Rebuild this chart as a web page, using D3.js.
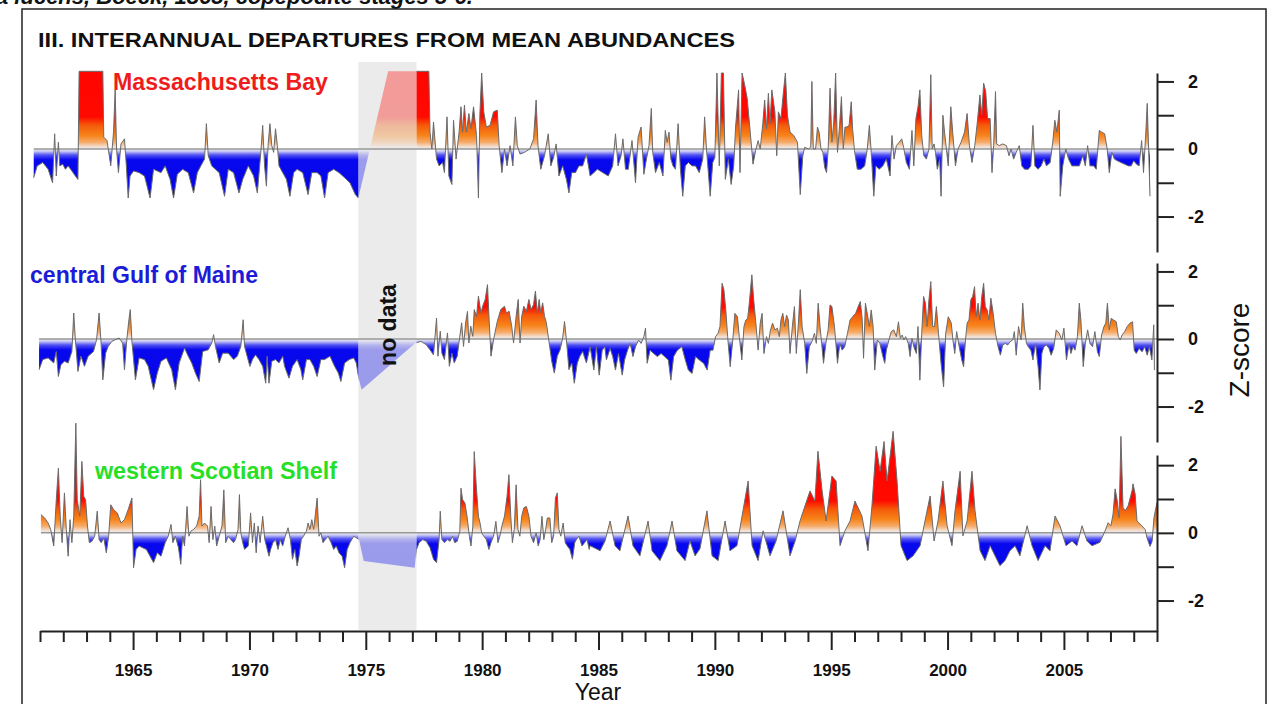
<!DOCTYPE html>
<html>
<head>
<meta charset="utf-8">
<script src="https://cdn.jsdelivr.net/npm/d3@7"></script>
<style>
body { margin: 0; background: #fff; }
svg { display: block; font-family: "Liberation Sans", Arial, sans-serif; }
</style>
</head>
<body>
<div id="chart"></div>
<script>
// series names and values (z-score of abundance)
const seriesNames = ['Massachusetts Bay', 'central Gulf of Maine', 'western Scotian Shelf'];

const massBay = [
  [1960.73,-0.85],[1960.88,-0.50],[1961.12,-0.40],[1961.35,-0.60],[1961.54,-1.00],[1961.63,0.45],[1961.70,-0.80],[1961.79,0.20],
  [1961.85,-0.50],[1961.98,-0.45],[1962.09,-0.60],[1962.21,-0.50],[1962.37,-0.65],[1962.52,-0.80],[1962.63,-0.90],[1962.68,2.3],
  [1963.70,2.3],[1963.74,0.35],[1963.88,0.25],[1964.04,-0.50],[1964.16,0.50],[1964.23,1.75],[1964.29,0.00],[1964.37,-0.70],
  [1964.48,0.15],[1964.63,0.30],[1964.71,-0.50],[1964.79,-1.45],[1964.87,-0.80],[1965.02,-0.65],[1965.26,-0.70],[1965.49,-0.80],
  [1965.73,-1.45],[1965.88,-0.60],[1966.20,-0.70],[1966.38,-0.50],[1966.59,-0.90],[1966.74,-1.45],[1966.90,-0.75],[1967.13,-0.60],
  [1967.37,-0.70],[1967.60,-1.30],[1967.76,-0.70],[1967.91,-0.50],[1968.07,-0.30],[1968.15,0.75],[1968.23,-0.20],[1968.38,-0.50],
  [1968.70,-0.70],[1968.93,-1.40],[1969.09,-0.60],[1969.32,-0.70],[1969.55,-1.30],[1969.71,-0.90],[1969.95,-0.50],[1970.18,-0.80],
  [1970.34,-1.30],[1970.49,-0.10],[1970.57,0.70],[1970.65,-0.50],[1970.73,-1.10],[1970.80,0.10],[1970.88,0.75],[1970.96,0.10],
  [1971.04,-0.10],[1971.12,0.60],[1971.20,0.10],[1971.27,-0.50],[1971.43,-0.70],[1971.59,-0.90],[1971.74,-1.40],[1971.90,-0.70],
  [1972.05,-0.60],[1972.29,-0.70],[1972.52,-1.35],[1972.68,-0.70],[1972.91,-0.70],[1973.07,-0.80],[1973.23,-1.45],[1973.38,-0.70],
  [1973.62,-0.60],[1973.85,-0.70],[1974.09,-0.85],[1974.32,-1.00],[1974.55,-1.35],[1974.68,-1.45],[1975.96,2.3],[1977.18,2.3],
  [1977.71,2.3],[1977.76,0.50],[1977.84,0.00],[1977.91,0.80],[1978.04,-0.30],[1978.15,-0.50],[1978.30,-0.40],[1978.38,-0.70],
  [1978.49,0.95],[1978.57,-0.80],[1978.70,-1.05],[1978.77,0.85],[1978.88,-0.30],[1979.01,0.50],[1979.09,1.25],[1979.16,0.50],
  [1979.24,1.30],[1979.32,0.50],[1979.43,1.05],[1979.52,0.60],[1979.63,1.25],[1979.76,0.40],[1979.84,-1.45],[1979.90,1.00],
  [1979.98,2.25],[1980.07,1.10],[1980.18,0.65],[1980.34,0.70],[1980.49,1.10],[1980.65,1.15],[1980.73,0.10],[1980.85,-0.70],
  [1980.96,0.00],[1981.07,-0.50],[1981.20,0.10],[1981.32,-0.50],[1981.43,0.95],[1981.51,0.10],[1981.63,-0.15],[1981.82,-0.10],
  [1982.05,0.00],[1982.21,0.30],[1982.32,1.45],[1982.40,0.10],[1982.52,-0.60],[1982.68,-0.20],[1982.84,0.45],[1982.95,-0.50],
  [1983.07,-0.25],[1983.18,0.15],[1983.30,-0.80],[1983.46,-0.50],[1983.62,-0.90],[1983.73,-1.30],[1983.85,-0.70],[1984.01,-0.70],
  [1984.16,-0.50],[1984.32,-0.50],[1984.48,-0.15],[1984.64,-0.80],[1984.80,-0.70],[1984.95,-0.60],[1985.19,-0.70],[1985.42,-0.80],
  [1985.61,-0.50],[1985.73,0.45],[1985.84,-0.50],[1985.97,-0.20],[1986.05,0.30],[1986.16,-0.60],[1986.28,-0.60],[1986.44,0.25],
  [1986.59,-1.00],[1986.70,0.35],[1986.83,0.65],[1986.95,-0.75],[1987.06,-0.30],[1987.17,0.10],[1987.27,1.20],[1987.33,-0.10],
  [1987.45,-0.70],[1987.61,-0.40],[1987.77,-0.80],[1987.87,0.55],[1987.95,0.20],[1988.03,0.50],[1988.11,-0.30],[1988.20,-0.50],
  [1988.31,-0.60],[1988.42,0.75],[1988.52,-0.60],[1988.62,-1.40],[1988.73,-0.50],[1988.86,-0.40],[1989.02,-0.50],[1989.17,-0.50],
  [1989.33,-0.70],[1989.48,-0.30],[1989.56,0.95],[1989.64,0.00],[1989.80,-1.40],[1989.91,-0.40],[1990.00,-0.25],[1990.09,2.25],
  [1990.19,-0.50],[1990.28,2.25],[1990.37,2.25],[1990.45,-0.90],[1990.58,-0.30],[1990.70,-1.05],[1990.81,-0.50],[1990.89,0.65],
  [1991.02,1.75],[1991.08,-0.70],[1991.17,2.25],[1991.28,1.90],[1991.39,1.50],[1991.52,0.50],[1991.64,-0.45],[1991.75,-0.05],
  [1991.86,0.25],[1991.95,0.00],[1992.06,0.75],[1992.14,1.45],[1992.22,0.60],[1992.30,1.65],[1992.37,0.75],[1992.45,1.75],
  [1992.58,1.10],[1992.66,-0.20],[1992.73,1.10],[1992.84,0.90],[1992.92,1.50],[1993.03,2.25],[1993.12,1.00],[1993.23,0.50],
  [1993.39,0.40],[1993.55,0.20],[1993.67,-1.35],[1993.78,-0.20],[1993.86,0.05],[1994.02,0.00],[1994.12,0.05],[1994.17,2.00],
  [1994.23,0.00],[1994.33,0.00],[1994.41,0.65],[1994.48,0.50],[1994.56,0.00],[1994.64,-0.10],[1994.72,-0.55],[1994.80,-0.70],
  [1994.87,0.00],[1994.95,1.80],[1995.03,0.20],[1995.11,0.80],[1995.19,2.25],[1995.27,-0.10],[1995.36,0.70],[1995.44,1.55],
  [1995.52,0.00],[1995.59,0.65],[1995.67,0.65],[1995.77,0.70],[1995.86,1.40],[1995.92,0.60],[1996.00,-0.05],[1996.12,-0.60],
  [1996.28,-0.60],[1996.44,-0.50],[1996.55,0.00],[1996.64,0.70],[1996.72,-0.10],[1996.83,-1.40],[1996.92,-0.50],[1997.06,-0.60],
  [1997.22,-0.50],[1997.37,-0.30],[1997.53,-0.80],[1997.61,0.40],[1997.70,-0.30],[1997.80,0.10],[1997.92,0.20],[1998.03,0.30],
  [1998.11,0.05],[1998.23,-0.40],[1998.36,-0.60],[1998.47,0.55],[1998.55,-0.50],[1998.64,0.90],[1998.73,1.25],[1998.81,1.75],
  [1998.89,0.40],[1998.98,-0.20],[1999.09,-0.30],[1999.20,0.00],[1999.28,2.20],[1999.34,0.00],[1999.42,0.15],[1999.48,-0.10],
  [1999.56,-0.60],[1999.66,-0.30],[1999.72,-1.40],[1999.80,1.00],[1999.87,0.50],[1999.95,0.00],[2000.03,-0.50],[2000.14,1.25],
  [2000.22,0.50],[2000.34,-0.50],[2000.45,0.00],[2000.58,0.20],[2000.73,0.50],[2000.84,1.05],[2000.94,0.10],[2001.05,-0.40],
  [2001.17,0.10],[2001.28,0.80],[2001.39,1.60],[2001.47,1.00],[2001.55,1.95],[2001.64,1.70],[2001.72,0.90],[2001.83,0.90],
  [2001.91,-0.70],[2001.98,0.10],[2002.06,1.70],[2002.11,0.15],[2002.22,0.10],[2002.37,0.15],[2002.53,0.10],[2002.64,-0.20],
  [2002.73,0.00],[2002.84,-0.30],[2002.95,-0.10],[2003.08,0.10],[2003.19,-0.50],[2003.31,-0.60],[2003.47,-0.60],[2003.58,-0.50],
  [2003.67,0.70],[2003.75,-0.50],[2003.89,-0.60],[2004.02,-0.50],[2004.14,-0.30],[2004.25,-0.50],[2004.41,-0.40],[2004.52,0.20],
  [2004.61,0.85],[2004.70,0.50],[2004.80,1.15],[2004.84,-1.40],[2004.95,-0.50],[2005.08,0.00],[2005.20,-0.30],[2005.34,-0.50],
  [2005.50,-0.50],[2005.66,-0.50],[2005.81,-0.20],[2005.92,-0.50],[2006.02,0.10],[2006.12,-0.50],[2006.28,-0.50],[2006.39,-0.60],
  [2006.52,0.55],[2006.62,0.50],[2006.75,0.45],[2006.86,0.00],[2006.95,-0.70],[2007.06,-0.10],[2007.17,-0.30],[2007.30,-0.35],
  [2007.45,-0.40],[2007.61,-0.45],[2007.77,-0.50],[2007.89,-0.50],[2008.00,-0.35],[2008.12,-0.45],[2008.23,-0.50],[2008.34,0.25],
  [2008.42,-0.70],[2008.52,0.50],[2008.58,1.35],[2008.64,0.00],[2008.70,-1.40]
];

const gulfMaine = [
  [1960.96,-0.91],[1961.12,-0.61],[1961.35,-0.56],[1961.59,-0.71],[1961.70,-0.37],[1961.79,-1.11],[1961.90,-0.76],[1962.05,-0.66],
  [1962.21,-0.71],[1962.37,-0.37],[1962.45,0.77],[1962.52,-0.02],[1962.63,-0.96],[1962.76,-0.51],[1962.91,-0.81],[1963.07,-0.51],
  [1963.30,-0.37],[1963.43,-0.02],[1963.54,0.77],[1963.62,-0.07],[1963.70,-1.21],[1963.82,-0.42],[1963.93,-0.22],[1964.09,-0.07],
  [1964.24,-0.02],[1964.40,0.03],[1964.55,-0.12],[1964.63,-0.91],[1964.73,-0.02],[1964.82,0.57],[1964.88,0.87],[1964.95,-0.07],
  [1965.10,-1.21],[1965.26,-0.56],[1965.49,-0.61],[1965.65,-0.81],[1965.88,-1.50],[1966.04,-1.01],[1966.20,-0.66],[1966.43,-0.56],
  [1966.66,-0.91],[1966.82,-1.50],[1966.98,-0.71],[1967.21,-0.27],[1967.37,-0.51],[1967.52,-0.71],[1967.68,-1.01],[1967.84,-1.26],
  [1967.99,-0.37],[1968.23,-0.32],[1968.38,-0.12],[1968.46,0.13],[1968.54,-0.22],[1968.70,-0.71],[1968.85,-0.42],[1969.09,-0.42],
  [1969.32,-0.61],[1969.48,-0.51],[1969.63,-0.22],[1969.73,0.57],[1969.79,-0.22],[1969.90,-0.51],[1970.02,-0.81],[1970.13,-0.61],
  [1970.26,-0.47],[1970.41,-0.61],[1970.57,-0.81],[1970.70,-1.31],[1970.76,-0.51],[1970.84,-1.31],[1970.96,-0.66],[1971.12,-0.61],
  [1971.27,-0.71],[1971.43,-0.51],[1971.51,-0.81],[1971.70,-1.16],[1971.85,-0.81],[1972.05,-0.61],[1972.21,-0.91],[1972.29,-1.21],
  [1972.45,-0.61],[1972.60,-0.61],[1972.76,-0.81],[1972.91,-1.11],[1973.07,-0.61],[1973.23,-0.61],[1973.46,-0.51],[1973.66,-0.81],
  [1973.82,-1.01],[1973.93,-1.26],[1974.09,-0.71],[1974.29,-0.61],[1974.48,-0.56],[1974.59,-0.71],[1974.71,-1.21],[1974.82,-1.50],
  [1977.13,-0.12],[1977.37,-0.07],[1977.60,-0.17],[1977.76,-0.32],[1977.91,-0.47],[1978.04,0.62],[1978.10,-0.51],[1978.20,0.23],
  [1978.27,-0.42],[1978.38,-0.61],[1978.51,0.18],[1978.59,-0.81],[1978.70,-0.42],[1978.80,-0.71],[1978.93,-0.51],[1979.04,0.08],
  [1979.12,0.48],[1979.20,-0.22],[1979.29,0.48],[1979.37,0.82],[1979.43,-0.12],[1979.51,0.38],[1979.60,0.08],[1979.66,0.87],
  [1979.76,0.67],[1979.84,1.27],[1979.95,0.77],[1980.02,0.97],[1980.13,1.17],[1980.23,1.61],[1980.30,0.57],[1980.38,-0.51],
  [1980.49,-0.02],[1980.65,0.52],[1980.80,0.87],[1980.96,0.97],[1981.04,0.77],[1981.16,0.82],[1981.27,0.38],[1981.35,-0.12],
  [1981.46,0.67],[1981.55,1.17],[1981.63,-0.12],[1981.70,0.67],[1981.79,0.97],[1981.90,0.82],[1982.01,1.17],[1982.10,0.87],
  [1982.21,1.02],[1982.29,1.42],[1982.37,0.77],[1982.45,1.17],[1982.52,0.77],[1982.60,1.07],[1982.68,0.67],[1982.76,0.48],
  [1982.87,-0.07],[1982.99,-0.66],[1983.10,-1.01],[1983.23,-0.51],[1983.35,-0.32],[1983.46,0.03],[1983.54,0.52],[1983.62,-0.02],
  [1983.73,-0.91],[1983.85,-0.71],[1983.96,-1.31],[1984.09,-0.71],[1984.20,-0.51],[1984.32,-0.37],[1984.48,-0.71],[1984.64,-0.23],
  [1984.80,-0.92],[1984.91,-0.23],[1985.03,-1.07],[1985.16,-0.33],[1985.27,-0.23],[1985.34,-0.62],[1985.50,-0.28],[1985.61,-0.52],
  [1985.73,-0.92],[1985.86,-0.43],[1986.02,-1.07],[1986.12,-0.62],[1986.25,-0.33],[1986.36,-0.13],[1986.48,-0.52],[1986.59,-0.23],
  [1986.72,-0.03],[1986.83,-0.13],[1986.95,0.07],[1987.02,0.32],[1987.09,-0.72],[1987.22,-0.33],[1987.37,-0.43],[1987.53,-0.52],
  [1987.69,-0.43],[1987.84,-0.52],[1988.00,-0.62],[1988.11,-1.22],[1988.23,-0.52],[1988.39,-0.33],[1988.58,-0.23],[1988.73,-0.62],
  [1988.86,-0.92],[1989.02,-1.02],[1989.17,-0.52],[1989.33,-0.62],[1989.52,-0.72],[1989.67,-0.92],[1989.80,-0.33],[1989.92,-0.33],
  [1990.03,0.07],[1990.14,0.17],[1990.22,0.37],[1990.31,1.65],[1990.39,1.46],[1990.47,0.86],[1990.55,0.07],[1990.66,-0.82],
  [1990.77,-0.03],[1990.86,0.76],[1990.97,0.66],[1991.05,0.07],[1991.16,-0.62],[1991.25,0.37],[1991.33,0.56],[1991.41,0.61],
  [1991.48,1.06],[1991.59,1.90],[1991.67,1.16],[1991.75,0.56],[1991.86,-0.33],[1991.95,0.47],[1992.03,0.76],[1992.11,-0.43],
  [1992.22,0.07],[1992.30,-0.13],[1992.39,0.27],[1992.48,0.47],[1992.58,0.27],[1992.69,0.32],[1992.77,0.07],[1992.84,0.56],
  [1992.92,0.76],[1993.00,0.37],[1993.08,0.71],[1993.16,0.56],[1993.23,-0.43],[1993.33,0.37],[1993.42,0.96],[1993.50,-0.43],
  [1993.59,0.47],[1993.67,1.46],[1993.75,0.37],[1993.86,-0.13],[1993.95,-1.02],[1994.06,-0.23],[1994.17,-0.08],[1994.28,0.17],
  [1994.36,-0.13],[1994.44,1.06],[1994.52,0.37],[1994.59,-0.13],[1994.67,-0.72],[1994.77,-0.13],[1994.87,0.27],[1994.95,1.01],
  [1995.03,0.96],[1995.14,0.37],[1995.27,-0.72],[1995.37,-0.13],[1995.47,-0.33],[1995.58,-0.23],[1995.70,0.17],[1995.81,0.56],
  [1995.92,0.66],[1996.05,0.76],[1996.16,0.96],[1996.25,1.11],[1996.33,0.61],[1996.39,-0.57],[1996.47,1.06],[1996.56,0.71],
  [1996.64,0.37],[1996.72,0.86],[1996.80,0.37],[1996.87,-0.92],[1996.98,-0.03],[1997.09,-0.13],[1997.22,-0.52],[1997.30,-0.72],
  [1997.37,-0.33],[1997.48,-0.03],[1997.58,0.22],[1997.69,0.27],[1997.80,0.07],[1997.89,0.51],[1997.97,0.02],[1998.05,0.12],
  [1998.12,-0.03],[1998.20,0.07],[1998.31,-0.13],[1998.39,-0.52],[1998.47,0.02],[1998.55,-0.23],[1998.66,-0.43],[1998.73,0.37],
  [1998.81,-1.22],[1998.89,0.17],[1998.97,1.26],[1999.05,1.06],[1999.12,0.37],[1999.20,1.16],[1999.28,1.70],[1999.36,0.37],
  [1999.44,0.37],[1999.52,0.96],[1999.61,0.17],[1999.72,-0.72],[1999.83,-1.42],[1999.92,0.17],[2000.03,0.66],[2000.16,0.47],
  [2000.23,-0.03],[2000.31,-0.43],[2000.39,0.22],[2000.50,-0.23],[2000.61,-0.62],[2000.69,-0.82],[2000.77,-0.03],[2000.84,0.47],
  [2000.92,0.56],[2001.00,1.16],[2001.08,1.26],[2001.16,1.55],[2001.23,0.66],[2001.31,1.06],[2001.39,0.56],[2001.47,1.26],
  [2001.55,1.65],[2001.62,0.96],[2001.70,0.86],[2001.78,0.56],[2001.86,1.21],[2001.94,0.86],[2002.06,0.17],[2002.17,-0.23],
  [2002.27,-0.48],[2002.37,-0.18],[2002.48,-0.13],[2002.58,-0.18],[2002.69,-0.08],[2002.80,-0.03],[2002.87,0.22],[2002.95,-0.48],
  [2003.05,0.37],[2003.16,-0.03],[2003.23,1.06],[2003.30,0.37],[2003.39,-0.13],[2003.47,-0.23],[2003.58,-0.33],[2003.67,-0.62],
  [2003.78,-0.13],[2003.89,-0.82],[2003.97,-1.51],[2004.05,-0.43],[2004.14,-0.23],[2004.25,-0.18],[2004.36,-0.28],[2004.45,-0.48],
  [2004.56,-0.28],[2004.67,0.27],[2004.80,0.17],[2004.91,-0.03],[2005.00,0.32],[2005.11,-0.62],[2005.22,-0.13],[2005.30,-0.43],
  [2005.39,-0.23],[2005.48,-0.33],[2005.58,0.07],[2005.66,1.06],[2005.73,0.56],[2005.83,-0.82],[2005.92,-0.13],[2006.02,0.27],
  [2006.12,-0.13],[2006.23,-0.23],[2006.33,0.22],[2006.44,-0.38],[2006.52,-0.52],[2006.62,0.12],[2006.72,0.37],[2006.80,0.47],
  [2006.87,1.06],[2006.95,0.27],[2007.03,0.61],[2007.14,0.56],[2007.25,0.51],[2007.34,0.07],[2007.42,-0.03],[2007.50,0.12],
  [2007.61,0.22],[2007.72,0.37],[2007.84,0.47],[2007.95,0.51],[2008.02,-0.33],[2008.11,-0.43],[2008.23,-0.28],[2008.36,-0.38],
  [2008.47,-0.23],[2008.58,-0.48],[2008.67,-0.23],[2008.78,-0.62],[2008.86,0.42],[2008.89,-0.92]
];

const scotianShelf = [
  [1961.04,0.54],[1961.20,0.44],[1961.35,0.29],[1961.46,0.10],[1961.59,-0.39],[1961.70,0.98],[1961.79,1.91],[1961.87,0.49],
  [1961.95,-0.29],[1962.05,1.18],[1962.13,0.10],[1962.21,-0.69],[1962.29,0.39],[1962.37,-0.29],[1962.45,0.49],[1962.54,3.24],
  [1962.60,0.98],[1962.71,0.49],[1962.80,2.11],[1962.88,1.08],[1962.96,0.98],[1963.04,0.20],[1963.12,-0.29],[1963.23,-0.25],
  [1963.35,-0.10],[1963.46,0.64],[1963.54,-0.20],[1963.63,-0.29],[1963.74,-0.15],[1963.85,-0.59],[1963.95,-0.10],[1964.04,0.83],
  [1964.16,0.69],[1964.32,0.59],[1964.48,0.29],[1964.63,0.39],[1964.79,0.69],[1964.95,1.03],[1965.02,-1.03],[1965.13,-0.49],
  [1965.26,-0.39],[1965.41,-0.44],[1965.57,-0.49],[1965.73,-0.69],[1965.88,-0.88],[1966.04,-0.59],[1966.20,-0.69],[1966.38,-0.29],
  [1966.51,-0.10],[1966.63,0.25],[1966.71,-0.29],[1966.82,-0.10],[1966.95,-0.44],[1967.05,-0.93],[1967.13,-0.10],[1967.21,-0.39],
  [1967.32,0.78],[1967.40,-0.10],[1967.48,0.05],[1967.60,0.10],[1967.73,0.20],[1967.84,0.49],[1967.90,1.57],[1967.96,0.20],
  [1968.07,0.29],[1968.20,0.20],[1968.27,-0.29],[1968.35,0.78],[1968.43,-0.20],[1968.51,0.20],[1968.59,-0.39],[1968.70,-0.10],
  [1968.82,0.20],[1968.90,1.27],[1968.98,-0.29],[1969.09,-0.10],[1969.20,-0.20],[1969.32,-0.29],[1969.40,-0.20],[1969.51,0.10],
  [1969.57,1.13],[1969.63,0.00],[1969.71,-0.29],[1969.79,-0.49],[1969.95,-0.39],[1970.05,0.59],[1970.13,-0.29],[1970.21,0.29],
  [1970.29,-0.59],[1970.37,0.20],[1970.46,-0.29],[1970.57,0.49],[1970.66,-0.20],[1970.73,-0.39],[1970.84,-0.69],[1970.91,-0.49],
  [1971.01,-0.29],[1971.12,-0.20],[1971.23,-0.49],[1971.32,-0.20],[1971.43,-0.39],[1971.54,-0.10],[1971.66,0.15],[1971.76,-0.20],
  [1971.85,-0.78],[1971.95,-0.49],[1972.05,-0.98],[1972.13,-0.69],[1972.23,-0.20],[1972.32,-0.10],[1972.45,0.05],[1972.52,0.29],
  [1972.60,0.10],[1972.68,0.39],[1972.76,0.10],[1972.84,0.59],[1972.91,1.03],[1972.99,-0.10],[1973.07,0.00],[1973.16,-0.29],
  [1973.26,-0.20],[1973.38,-0.10],[1973.51,-0.29],[1973.62,-0.49],[1973.73,-0.39],[1973.85,-0.59],[1973.98,-0.69],[1974.09,-1.03],
  [1974.20,-0.49],[1974.32,-0.29],[1974.48,-0.10],[1974.60,-0.15],[1974.71,-0.20],[1974.91,-0.83],[1977.10,-1.03],[1977.18,-0.49],
  [1977.29,-0.29],[1977.45,-0.20],[1977.60,-0.25],[1977.76,-0.44],[1977.91,-0.78],[1978.04,-0.88],[1978.15,-0.20],[1978.20,0.64],
  [1978.27,-0.20],[1978.38,-0.29],[1978.51,-0.20],[1978.62,-0.25],[1978.73,-0.10],[1978.82,-0.29],[1978.93,-0.25],[1979.04,0.05],
  [1979.09,1.32],[1979.16,0.98],[1979.26,0.88],[1979.35,0.49],[1979.45,-0.10],[1979.52,-0.39],[1979.60,0.20],[1979.66,2.40],
  [1979.74,1.47],[1979.84,0.49],[1979.91,0.29],[1979.98,0.00],[1980.07,-0.10],[1980.18,-0.20],[1980.29,-0.49],[1980.38,-0.29],
  [1980.49,-0.10],[1980.59,0.34],[1980.68,-0.29],[1980.76,-0.10],[1980.85,0.20],[1980.96,0.49],[1981.07,1.08],[1981.15,1.72],
  [1981.23,0.49],[1981.30,-0.29],[1981.38,0.10],[1981.46,1.42],[1981.54,0.10],[1981.62,-0.10],[1981.70,0.49],[1981.79,0.74],
  [1981.90,0.78],[1982.01,0.49],[1982.10,-0.10],[1982.21,-0.29],[1982.32,0.00],[1982.41,-0.39],[1982.49,-0.20],[1982.57,0.49],
  [1982.65,-0.20],[1982.73,0.10],[1982.80,0.44],[1982.91,0.44],[1982.99,-0.29],[1983.07,-0.10],[1983.15,1.03],[1983.23,1.18],
  [1983.30,0.10],[1983.38,-0.10],[1983.48,0.29],[1983.57,-0.29],[1983.66,-0.39],[1983.77,-0.49],[1983.88,-0.78],[1983.98,-0.29],
  [1984.05,-0.20],[1984.16,-0.10],[1984.29,-0.39],[1984.40,-0.29],[1984.51,-0.20],[1984.60,-0.49],[1984.64,-0.38],[1985.07,-0.53],
  [1985.28,-0.24],[1985.50,0.35],[1985.71,-0.38],[1985.92,-0.53],[1986.27,0.50],[1986.48,-0.38],[1986.78,-0.68],[1987.13,0.35],
  [1987.30,-0.53],[1987.64,-0.82],[1987.94,-0.38],[1988.16,0.35],[1988.37,-0.53],[1988.72,-0.82],[1988.93,-0.24],[1989.15,-0.68],
  [1989.36,-0.47],[1989.66,0.65],[1989.88,-0.68],[1990.14,-0.82],[1990.44,0.35],[1990.65,-0.53],[1990.95,-0.38],[1991.17,0.50],
  [1991.43,1.53],[1991.60,-0.38],[1991.86,-0.82],[1992.07,0.06],[1992.37,-0.68],[1992.63,-0.24],[1992.93,0.65],[1993.23,-0.68],
  [1993.45,-0.24],[1993.66,0.35],[1993.87,0.79],[1994.09,1.24],[1994.30,0.94],[1994.43,2.41],[1994.61,1.24],[1994.78,0.35],
  [1995.03,1.68],[1995.21,1.53],[1995.38,-0.38],[1995.59,0.06],[1995.81,0.35],[1996.02,0.94],[1996.32,0.50],[1996.58,-0.53],
  [1996.75,0.79],[1996.93,2.56],[1997.10,1.82],[1997.27,2.70],[1997.40,1.53],[1997.53,2.26],[1997.66,3.00],[1997.83,1.53],
  [1998.00,-0.38],[1998.26,-0.82],[1998.52,-0.68],[1998.82,-0.38],[1999.03,0.35],[1999.25,1.09],[1999.42,-0.24],[1999.59,0.35],
  [1999.80,1.53],[1999.98,0.21],[2000.19,-0.38],[2000.32,0.65],[2000.54,1.82],[2000.66,-0.09],[2000.84,0.35],[2001.05,1.82],
  [2001.18,0.65],[2001.40,-0.53],[2001.61,-0.82],[2001.83,-0.38],[2002.04,-0.68],[2002.25,-0.97],[2002.47,-0.82],[2002.68,-0.53],
  [2002.90,-0.38],[2003.11,-0.68],[2003.42,0.21],[2003.63,-0.38],[2003.89,-0.82],[2004.19,-0.38],[2004.40,-0.53],[2004.62,0.50],
  [2004.83,0.21],[2005.09,-0.38],[2005.35,-0.24],[2005.56,-0.38],[2005.78,0.21],[2005.99,-0.24],[2006.21,-0.38],[2006.55,-0.28],
  [2006.77,0.06],[2006.90,0.30],[2007.02,0.21],[2007.11,0.55],[2007.20,1.30],[2007.28,1.00],[2007.37,0.45],[2007.45,2.85],
  [2007.54,0.75],[2007.63,0.65],[2007.76,0.80],[2007.93,1.25],[2007.97,1.45],[2008.06,1.15],[2008.14,0.35],[2008.36,0.20],
  [2008.49,0.10],[2008.57,-0.15],[2008.70,-0.40],[2008.79,-0.25],[2008.87,0.45],[2009.00,0.90]
];

const gapYears = [1974.68, 1977.18];
const yearTicks = d3.range(1961, 2010);
const yearLabels = [1965, 1970, 1975, 1980, 1985, 1990, 1995, 2000, 2005];
const zTicks = [-2, -1, 0, 1, 2];
const zLabels = [-2, 0, 2];

const width = 1270, height = 704;

const svg = d3.select('#chart').append('svg')
  .attr('width', width)
  .attr('height', height);

const x = d3.scaleLinear().domain([1961, 2009]).range([40, 1157]);

// panel geometry
const panels = [
  {data: massBay, domain: [-3.05, 2.25], range: [252, 73], lab: {x: 113, y: 90, fill: '#ee1c1c', len: 215}},
  {data: gulfMaine, domain: [-3.05, 2.25], range: [442, 263], lab: {x: 30, y: 283, fill: '#1c1cd8', len: 228}},
  {data: scotianShelf, domain: [-2.9, 2.3], range: [631, 455], lab: {x: 95, y: 479, fill: '#26e026', len: 242}}
];

const colorStops = [
  [3.5, '#ff0000'], [0.95, '#ff0a00'], [0.7, '#f55a0a'], [0.4, '#f7841a'], [0.2, '#f6ab6a'],
  [0.06, '#f3e2d6'], [0, '#e6e6ec'], [-0.06, '#d0d0f6'], [-0.18, '#5050f2'], [-0.32, '#0808ee'], [-3.5, '#0000e0']
];

const defs = svg.append('defs');

defs.append('clipPath').attr('id', 'outGap')
  .selectAll('rect')
  .data([[0, x(gapYears[0])], [x(gapYears[1]), width]])
  .join('rect')
  .attr('x', d => d[0]).attr('y', 0)
  .attr('width', d => d[1] - d[0]).attr('height', height);

defs.append('clipPath').attr('id', 'inGap')
  .append('rect')
  .attr('x', x(gapYears[0])).attr('y', 0)
  .attr('width', x(gapYears[1]) - x(gapYears[0])).attr('height', height);

// no data band
svg.append('rect')
  .attr('x', x(gapYears[0]))
  .attr('y', 62)
  .attr('width', x(gapYears[1]) - x(gapYears[0]))
  .attr('height', 568)
  .attr('fill', '#ebebeb');

panels.forEach((p, i) => {
  const y = d3.scaleLinear().domain(p.domain).range(p.range);

  const y1 = y(3.5), y2 = y(-3.5);
  defs.append('linearGradient')
    .attr('id', 'grad' + i)
    .attr('gradientUnits', 'userSpaceOnUse')
    .attr('x1', 0).attr('x2', 0)
    .attr('y1', y1).attr('y2', y2)
    .selectAll('stop')
    .data(colorStops)
    .join('stop')
    .attr('offset', d => (y(d[0]) - y1) / (y2 - y1))
    .attr('stop-color', d => d[1]);

  const area = d3.area()
    .x(d => x(d[0]))
    .y0(y(0))
    .y1(d => y(d[1]));

  const line = d3.line()
    .x(d => x(d[0]))
    .y(d => y(d[1]));

  const g = svg.append('g');

  g.append('path')
    .datum(p.data)
    .attr('d', area)
    .attr('fill', `url(#grad${i})`)
    .attr('clip-path', 'url(#outGap)');

  g.append('path')
    .datum(p.data)
    .attr('d', area)
    .attr('fill', `url(#grad${i})`)
    .attr('opacity', 0.35)
    .attr('clip-path', 'url(#inGap)');

  // zero line
  g.append('line')
    .attr('x1', x(p.data[0][0])).attr('x2', x(2009))
    .attr('y1', y(0)).attr('y2', y(0))
    .attr('stroke', '#999')
    .attr('stroke-width', 1.5);

  g.append('path')
    .datum(p.data)
    .attr('d', line)
    .attr('fill', 'none')
    .attr('stroke', '#6b6b6b')
    .attr('stroke-width', 1)
    .attr('clip-path', 'url(#outGap)');

  // right z axis
  const ax = g.append('g')
    .attr('transform', `translate(${x(2009)},0)`)
    .call(d3.axisRight(y)
      .tickValues(zTicks)
      .tickSize(17)
      .tickSizeOuter(0)
      .tickPadding(14)
      .tickFormat(d => zLabels.includes(d) ? String(d) : ''));
  ax.select('.domain').attr('stroke', '#222').attr('stroke-width', 2);
  ax.selectAll('.tick line').attr('stroke', '#222').attr('stroke-width', 2);
  ax.selectAll('.tick text')
    .attr('fill', '#111')
    .attr('font-size', 18)
    .attr('font-weight', 'bold')
    .attr('font-family', '"Liberation Sans", Arial, sans-serif');

  g.append('text')
    .attr('x', p.lab.x)
    .attr('y', p.lab.y)
    .attr('fill', p.lab.fill)
    .attr('font-size', 23)
    .attr('font-weight', 'bold')
    .attr('textLength', p.lab.len)
    .attr('lengthAdjust', 'spacingAndGlyphs')
    .text(seriesNames[i]);
});

// bottom year axis
const xAxisY = 631;
const minor = svg.append('g')
  .attr('transform', `translate(0,${xAxisY})`)
  .call(d3.axisBottom(x).tickValues(yearTicks.filter(d => !yearLabels.includes(d)))
    .tickSize(11).tickSizeOuter(0).tickFormat(''));
minor.select('.domain').attr('stroke', '#222').attr('stroke-width', 2);
minor.selectAll('.tick line').attr('stroke', '#222').attr('stroke-width', 2);

const major = svg.append('g')
  .attr('transform', `translate(0,${xAxisY})`)
  .call(d3.axisBottom(x).tickValues(yearLabels).tickSize(19).tickSizeOuter(0).tickPadding(14).tickFormat(d3.format('d')));
major.select('.domain').remove();
major.selectAll('.tick line').attr('stroke', '#222').attr('stroke-width', 2);
major.selectAll('.tick text')
  .attr('fill', '#111')
  .attr('font-size', 17)
  .attr('font-weight', 'bold')
  .attr('font-family', '"Liberation Sans", Arial, sans-serif');

// texts
svg.append('text')
  .attr('x', 598).attr('y', 700)
  .attr('text-anchor', 'middle')
  .attr('font-size', 23)
  .attr('fill', '#111')
  .text('Year');

svg.append('text')
  .attr('transform', 'translate(1249,350) rotate(-90)')
  .attr('text-anchor', 'middle')
  .attr('font-size', 28)
  .attr('fill', '#111')
  .text('Z-score');

svg.append('text')
  .attr('transform', `translate(${(x(gapYears[0]) + x(gapYears[1])) / 2 + 9},325) rotate(-90)`)
  .attr('text-anchor', 'middle')
  .attr('font-size', 23)
  .attr('font-weight', 'bold')
  .attr('fill', '#111')
  .text('no data');

svg.append('text')
  .attr('x', 38).attr('y', 47)
  .attr('font-size', 20)
  .attr('font-weight', 'bold')
  .attr('fill', '#111')
  .attr('textLength', 697)
  .attr('lengthAdjust', 'spacingAndGlyphs')
  .text('III.  INTERANNUAL DEPARTURES FROM MEAN ABUNDANCES');

svg.append('text')
  .attr('x', -4).attr('y', 4)
  .attr('font-size', 22)
  .attr('font-weight', 'bold')
  .attr('font-style', 'italic')
  .attr('fill', '#111')
  .text('a lucens, Boeck, 1865, copepodite stages 5-6.');

// frame
svg.append('path')
  .attr('d', `M22,${height + 2}V9H1266V${height + 2}`)
  .attr('fill', 'none')
  .attr('stroke', '#222')
  .attr('stroke-width', 1.5);
</script>
</body>
</html>
